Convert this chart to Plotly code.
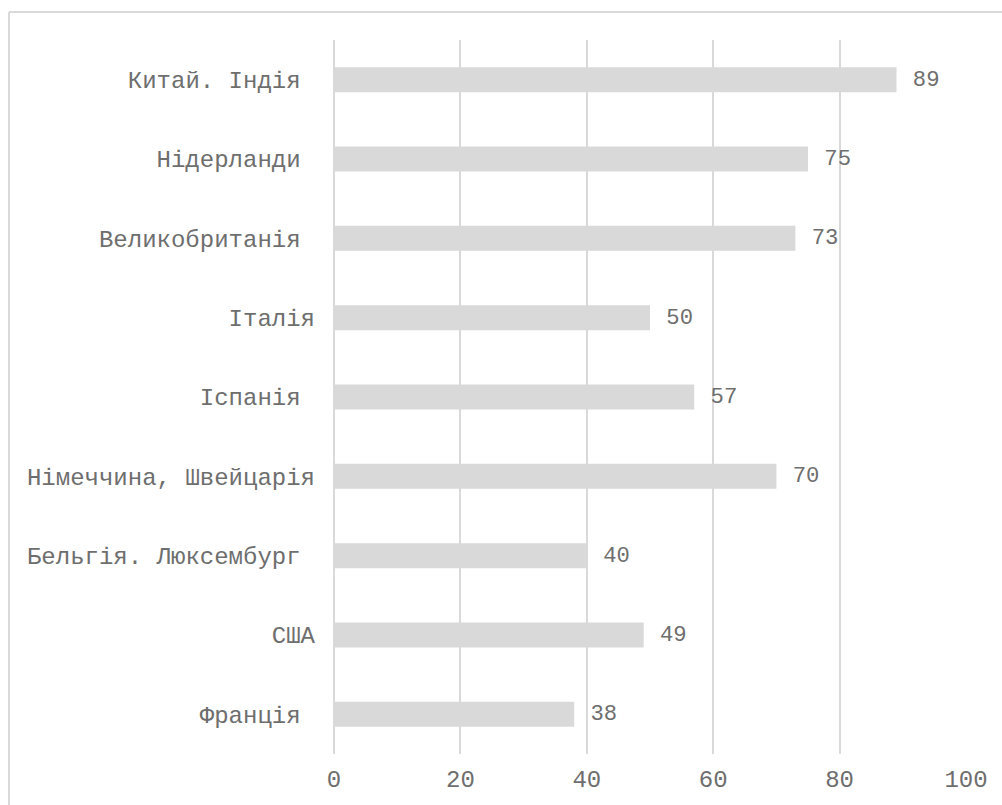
import plotly.graph_objects as go

NBSP = "\u00a0"
categories = ["Китай. Індія" + NBSP, "Нідерланди" + NBSP, "Великобританія" + NBSP, "Італія",
              "Іспанія" + NBSP, "Німеччина, Швейцарія", "Бельгія. Люксембург" + NBSP, "США", "Франція" + NBSP]
values = [89, 75, 73, 50, 57, 70, 40, 49, 38]
x_ticks = [0, 20, 40, 60, 80, 100]

W, H = 1002, 805
ML, MR, MT, MB = 334, 36, 40, 51
FONT = "Liberation Mono, Courier New, monospace"
GRAY = "#d9d9d9"
TXT = "#6e6e6e"

fig = go.Figure(go.Bar(
    y=categories, x=values, orientation="h",
    marker=dict(color=GRAY, line=dict(width=0)),
    texttemplate=NBSP + "%{x}", textposition="outside",
    textfont=dict(family=FONT, size=24, color=TXT),
    cliponaxis=False,
))

pw, ph = W - ML - MR, H - MT - MB
def px2paper_x(px): return (px - ML) / pw
def px2paper_y(py): return (H - MB - py) / ph

fig.update_layout(
    width=W, height=H,
    margin=dict(l=ML, r=MR, t=MT, b=MB),
    paper_bgcolor="white", plot_bgcolor="white",
    bargap=0.685, showlegend=False,
    font=dict(family=FONT, size=24, color=TXT),
    xaxis=dict(range=[0, 100], tickvals=x_ticks, showgrid=True, gridcolor=GRAY, gridwidth=1.5,
               zeroline=True, zerolinecolor=GRAY, zerolinewidth=1.5, showline=False, ticks="",
               ticklabelstandoff=8, tickfont=dict(family=FONT, size=24, color=TXT)),
    yaxis=dict(autorange="reversed", showgrid=False, zeroline=False, showline=False, ticks="",
               ticklabelstandoff=18, tickfont=dict(family=FONT, size=24, color=TXT)),
    shapes=[
        dict(type="line", xref="paper", yref="paper", x0=px2paper_x(9), x1=px2paper_x(1010),
             y0=px2paper_y(12), y1=px2paper_y(12), line=dict(color=GRAY, width=2)),
        dict(type="line", xref="paper", yref="paper", x0=px2paper_x(9), x1=px2paper_x(9),
             y0=px2paper_y(12), y1=px2paper_y(810), line=dict(color=GRAY, width=2)),
    ],
)

fig.write_html("out.html")
